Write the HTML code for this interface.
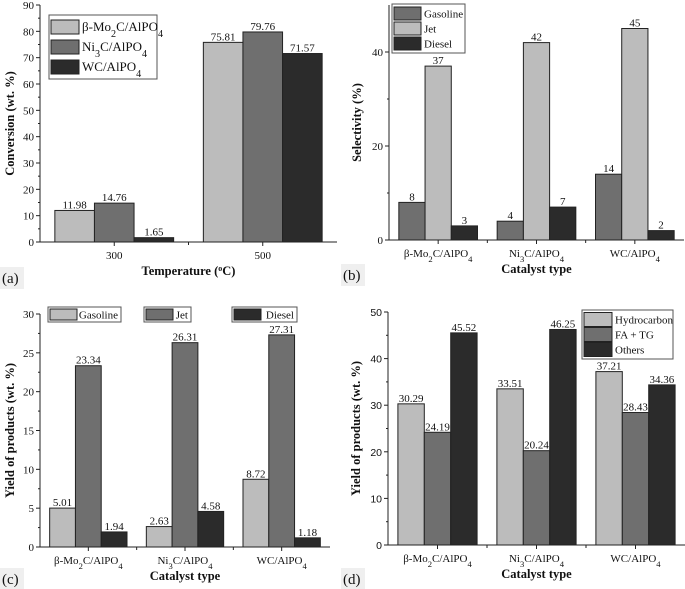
<!DOCTYPE html>
<html><head><meta charset="utf-8">
<style>
html,body{margin:0;padding:0;background:#fff;}
svg{display:block;}
text{font-family:"Liberation Serif",serif;fill:#111;}
.tl{font-size:11px;}
.vl{font-size:11px;}
.tt{font-size:12.5px;font-weight:bold;}
.lg{font-size:11px;}
.lga{font-size:13px;}
</style></head>
<body>
<svg id="fig" width="685" height="589" viewBox="0 0 685 589" xmlns="http://www.w3.org/2000/svg"></svg>
<script>
// Panel (a)
const aCategories = ["300", "500"];
const aSeriesNames = ["β-Mo₂C/AlPO₄", "Ni₃C/AlPO₄", "WC/AlPO₄"];
const aMo = [11.98, 75.81];
const aNi = [14.76, 79.76];
const aWC = [1.65, 71.57];
const aTicks = [0, 10, 20, 30, 40, 50, 60, 70, 80, 90];
// Panel (b)
const bCategories = ["β-Mo₂C/AlPO₄", "Ni₃C/AlPO₄", "WC/AlPO₄"];
const bGasoline = [8, 4, 14];
const bJet = [37, 42, 45];
const bDiesel = [3, 7, 2];
const bTicks = [0, 20, 40];
// Panel (c)
const cCategories = ["β-Mo₂C/AlPO₄", "Ni₃C/AlPO₄", "WC/AlPO₄"];
const cGasoline = [5.01, 2.63, 8.72];
const cJet = [23.34, 26.31, 27.31];
const cDiesel = [1.94, 4.58, 1.18];
const cTicks = [0, 5, 10, 15, 20, 25, 30];
// Panel (d)
const dCategories = ["β-Mo₂C/AlPO₄", "Ni₃C/AlPO₄", "WC/AlPO₄"];
const dHydrocarbon = [30.29, 33.51, 37.21];
const dFATG = [24.19, 20.24, 28.43];
const dOthers = [45.52, 46.25, 34.36];
const dTicks = [0, 10, 20, 30, 40, 50];

const NS = "http://www.w3.org/2000/svg";
const svg = document.getElementById("fig");
const LIGHT = "#bcbcbc", MID = "#6f6f6f", DARK = "#2b2b2b";

function mk(tag, attrs, parent, txt) {
  const e = document.createElementNS(NS, tag);
  for (const k in attrs) e.setAttribute(k, attrs[k]);
  if (txt !== undefined) e.textContent = txt;
  (parent || svg).appendChild(e);
  return e;
}
function catText(g, x, y, label, cls) {
  const t = mk("text", {x: x, y: y, "text-anchor": "middle", class: cls}, g);
  const subs = {"₂": "2", "₃": "3", "₄": "4"};
  let buf = "";
  for (const ch of label) {
    if (subs[ch]) {
      if (buf) { mk("tspan", {}, t, buf); buf = ""; }
      mk("tspan", {"baseline-shift": "sub", "font-size": "0.78em"}, t, subs[ch]);
    } else buf += ch;
  }
  if (buf) mk("tspan", {}, t, buf);
  return t;
}

function panel(o) {
  const g = mk("g", {});
  
  
  const n = o.categories.length;
  const cw = (o.x1 - o.x0) / n;
  const bw = cw * 0.8 / o.series.length;
  const yScale = v => o.y0 - (v - o.ymin) / (o.ymax - o.ymin) * (o.y0 - o.yTop);
  const xCenter = i => o.x0 + cw * (i + 0.5);
  o.series.forEach((s, si) => {
    s.values.forEach((v, i) => {
      const bx = xCenter(i) - cw * 0.4 + si * bw;
      const by = yScale(v);
      const r = mk("rect", {x: bx, y: by, width: bw, height: o.y0 - by, fill: s.color, stroke: "#222", "stroke-width": 1}, g);
      
      
      const lbl = mk("text", {x: bx + bw / 2, y: by - 2, "text-anchor": "middle", class: "vl"}, g, String(v));
      
      
    });
  });
  const ya = mk("line", {x1: o.x0, y1: o.y0, x2: o.x0, y2: o.yTop, stroke: "#222", "stroke-width": 1}, g);
  
  
  const xa = mk("line", {x1: o.x0, y1: o.y0, x2: o.x1, y2: o.y0, stroke: "#222", "stroke-width": 1}, g);
  
  
  o.ticks.forEach((t, i) => {
    const y = yScale(t);
    mk("line", {x1: o.x0 - 4, y1: y, x2: o.x0, y2: y, stroke: "#222"}, g);
    if (i < o.ticks.length - 1) {
      const ym = yScale((t + o.ticks[i + 1]) / 2);
      mk("line", {x1: o.x0 - 2, y1: ym, x2: o.x0, y2: ym, stroke: "#222"}, g);
    }
    const tl = mk("text", {x: o.x0 - 6, y: y + 4, "text-anchor": "end", class: "tl", style: o.sansTicks ? 'font-family:"Liberation Sans",sans-serif;font-size:10.5px' : ''}, g, String(t));
    
    
  });
  for (let i = 0; i < n; i++) {
    const xc = xCenter(i);
    mk("line", {x1: xc, y1: o.y0, x2: xc, y2: o.y0 + 4, stroke: "#222"}, g);
    if (i > 0) mk("line", {x1: o.x0 + cw * i, y1: o.y0, x2: o.x0 + cw * i, y2: o.y0 + 3, stroke: "#222"}, g);
    const cl = catText(g, xc, o.y0 + 17, o.categories[i], "tl");
    
    
  }
  const xt = mk("text", {x: (o.x0 + o.x1) / 2 + (o.xtOff || 0), y: o.y0 + 33, "text-anchor": "middle", class: "tt"}, g);
  
  
  if (o.xTitle === "Temperature") {
    mk("tspan", {}, xt, "Temperature (");
    mk("tspan", {"baseline-shift": "super", "font-size": "8"}, xt, "o");
    mk("tspan", {}, xt, "C)");
  } else xt.textContent = o.xTitle;
  const ymid = (o.y0 + o.yTop) / 2;
  const yt = mk("text", {x: o.ytX, y: ymid, "text-anchor": "middle", class: "tt", transform: "rotate(-90 " + o.ytX + " " + ymid + ")"}, g, o.yTitle);
  
  
  mk("rect", {x: o.letterX, y: o.letterY - 16, width: 24, height: 22, fill: "#efefef"}, g);
  const pl = mk("text", {x: o.letterX + 2, y: o.letterY, style: "font-size:15px"}, g, o.letter);
  
  
  return g;
}

function legendBox(g, x, y, w, rows, rowH, swW, swH, cls) {
  const lb = mk("rect", {x: x, y: y, width: w, height: rows.length * rowH + 4, fill: "#fff", stroke: "#555", "stroke-width": 1}, g);
  
  
  rows.forEach((r, i) => {
    const cy = y + 2 + rowH * i + rowH / 2;
    const sw = mk("rect", {x: x + 2, y: cy - swH / 2, width: swW, height: swH, fill: r.color, stroke: "#222"}, g);
    
    
    const t = catText(g, 0, cy + 4, r.label, cls || "lg");
    t.setAttribute("text-anchor", "start");
    t.setAttribute("x", x + swW + 5);
    
    
  });
}

const ga = panel({name: "chart-a-conversion", categories: aCategories, series: [
  {key: "mo2c", values: aMo, color: LIGHT}, {key: "ni3c", values: aNi, color: MID}, {key: "wc", values: aWC, color: DARK}],
  x0: 40, x1: 337, y0: 242, yTop: 5, ymin: 0, ymax: 90, ticks: aTicks,
  xTitle: "Temperature", yTitle: "Conversion (wt. %)", ytX: 14, letter: "(a)", letterX: 0, letterY: 283});
legendBox(ga, 49, 15, 108, [{label: aSeriesNames[0], color: LIGHT}, {label: aSeriesNames[1], color: MID}, {label: aSeriesNames[2], color: DARK}], 20, 28, 14, "lga");

const gb = panel({name: "chart-b-selectivity", categories: bCategories, series: [
  {key: "gasoline", values: bGasoline, color: MID}, {key: "jet", values: bJet, color: LIGHT}, {key: "diesel", values: bDiesel, color: DARK}],
  x0: 389, x1: 684, y0: 240, yTop: 5, ymin: 0, ymax: 50, ticks: bTicks,
  xTitle: "Catalyst type", yTitle: "Selectivity (%)", ytX: 361, letter: "(b)", letterX: 341, letterY: 280});
legendBox(gb, 392, 4, 73, [{label: "Gasoline", color: MID}, {label: "Jet", color: LIGHT}, {label: "Diesel", color: DARK}], 15, 27, 13);

const gc = panel({name: "chart-c-yield", categories: cCategories, series: [
  {key: "gasoline", values: cGasoline, color: LIGHT}, {key: "jet", values: cJet, color: MID}, {key: "diesel", values: cDiesel, color: DARK}],
  x0: 40, x1: 330, y0: 547, yTop: 314, ymin: 0, ymax: 30, ticks: cTicks,
  xTitle: "Catalyst type", yTitle: "Yield of products (wt. %)", ytX: 14, letter: "(c)", letterX: 0, letterY: 584});
[[48, 73, "Gasoline", LIGHT], [144, 47, "Jet", MID], [232, 65, "Diesel", DARK]].forEach(l => {
  const b = mk("rect", {x: l[0], y: 307, width: l[1], height: 15, fill: "#fff", stroke: "#555"}, gc);
  
  
  mk("rect", {x: l[0] + 2, y: 309, width: 27, height: 11, fill: l[3], stroke: "#222"}, gc);
  const t = mk("text", {x: l[0] + l[1] - 3, y: 318.5, "text-anchor": "end", class: "lg"}, gc, l[2]);
  
  
});

const gd = panel({name: "chart-d-yield", categories: dCategories, series: [
  {key: "hydrocarbon", values: dHydrocarbon, color: LIGHT}, {key: "fatg", values: dFATG, color: MID}, {key: "others", values: dOthers, color: DARK}],
  x0: 388, x1: 685, y0: 545, yTop: 312, ymin: 0, ymax: 50, ticks: dTicks, sansTicks: true,
  xTitle: "Catalyst type", yTitle: "Yield of products (wt. %)", ytX: 360, letter: "(d)", letterX: 341, letterY: 584});
legendBox(gd, 582, 310, 91, [{label: "Hydrocarbon", color: LIGHT}, {label: "FA + TG", color: MID}, {label: "Others", color: DARK}], 15, 28, 14);
</script>
</body></html>
